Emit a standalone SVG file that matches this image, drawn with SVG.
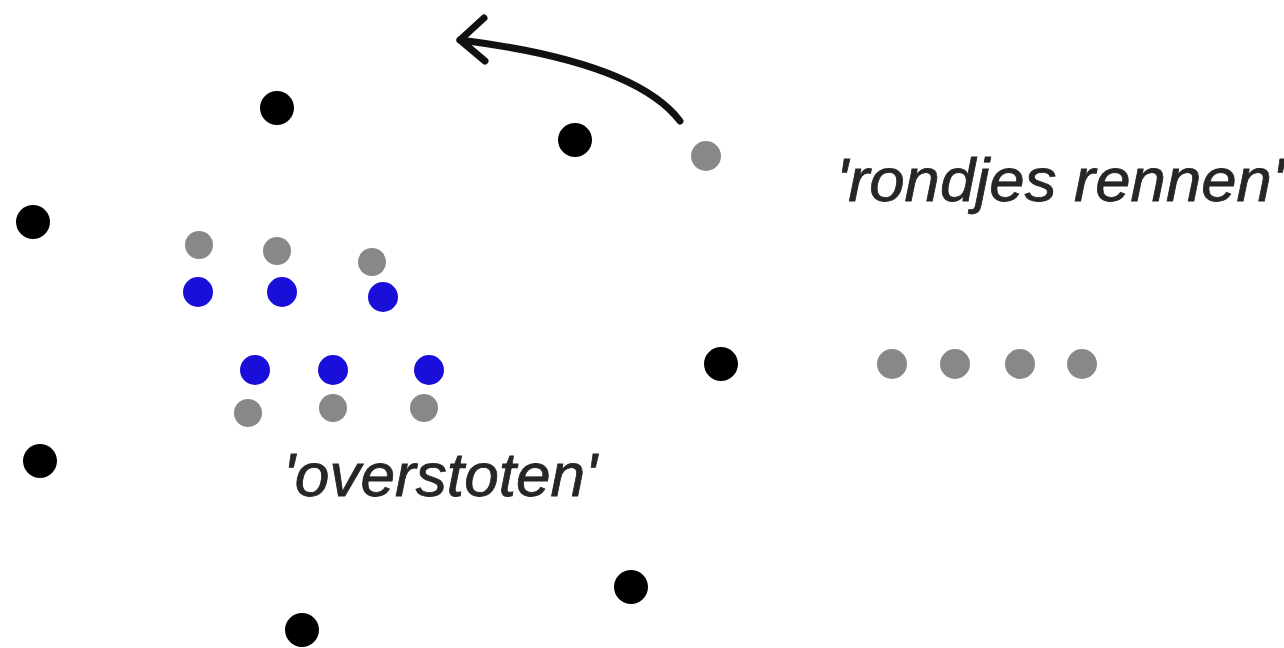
<svg xmlns="http://www.w3.org/2000/svg" width="1284" height="648" viewBox="0 0 1284 648">
<style>
.b{fill:#000}
.g{fill:#888}
.u{fill:#1a0fd8}
.t{font-family:"Liberation Sans",Arial,sans-serif;font-style:italic;fill:#262626;stroke:#262626;stroke-width:0.8;font-size:62px}
.c{fill:none;stroke:#111;stroke-width:7;stroke-linecap:round;stroke-linejoin:round}
</style>
<rect width="1284" height="648" fill="#fff"/>
<g id="black-dots">
<circle class="b" cx="277" cy="108" r="17"/>
<circle class="b" cx="575" cy="140" r="17"/>
<circle class="b" cx="33" cy="222" r="17"/>
<circle class="b" cx="721" cy="364" r="17"/>
<circle class="b" cx="40" cy="461" r="17"/>
<circle class="b" cx="631" cy="587" r="17"/>
<circle class="b" cx="302" cy="630" r="17"/>
</g>
<g id="runner">
<circle class="g" cx="706" cy="156" r="15"/>
</g>
<g id="cluster">
<circle class="g" cx="199" cy="245" r="14"/>
<circle class="g" cx="277" cy="251" r="14"/>
<circle class="g" cx="372" cy="262" r="14"/>
<circle class="u" cx="198" cy="292" r="15"/>
<circle class="u" cx="282" cy="292" r="15"/>
<circle class="u" cx="383" cy="297" r="15"/>
<circle class="u" cx="255" cy="370" r="15"/>
<circle class="u" cx="333" cy="370" r="15"/>
<circle class="u" cx="429" cy="370" r="15"/>
<circle class="g" cx="248" cy="413" r="14"/>
<circle class="g" cx="333" cy="408" r="14"/>
<circle class="g" cx="424" cy="408" r="14"/>
</g>
<g id="row">
<circle class="g" cx="892" cy="364" r="15"/>
<circle class="g" cx="955" cy="364" r="15"/>
<circle class="g" cx="1020" cy="364" r="15"/>
<circle class="g" cx="1082" cy="364" r="15"/>
</g>
<g id="connectors">
<path class="c" d="M680 121 Q635 62 460 40"/>
<path class="c" d="M484 18 L460 40 L485 61"/>
</g>
<g id="labels">
<text class="t" x="836" y="201" textLength="448" lengthAdjust="spacingAndGlyphs">'rondjes rennen'</text>
<text class="t" x="283" y="496" textLength="314" lengthAdjust="spacingAndGlyphs">'overstoten'</text>
</g>
</svg>
